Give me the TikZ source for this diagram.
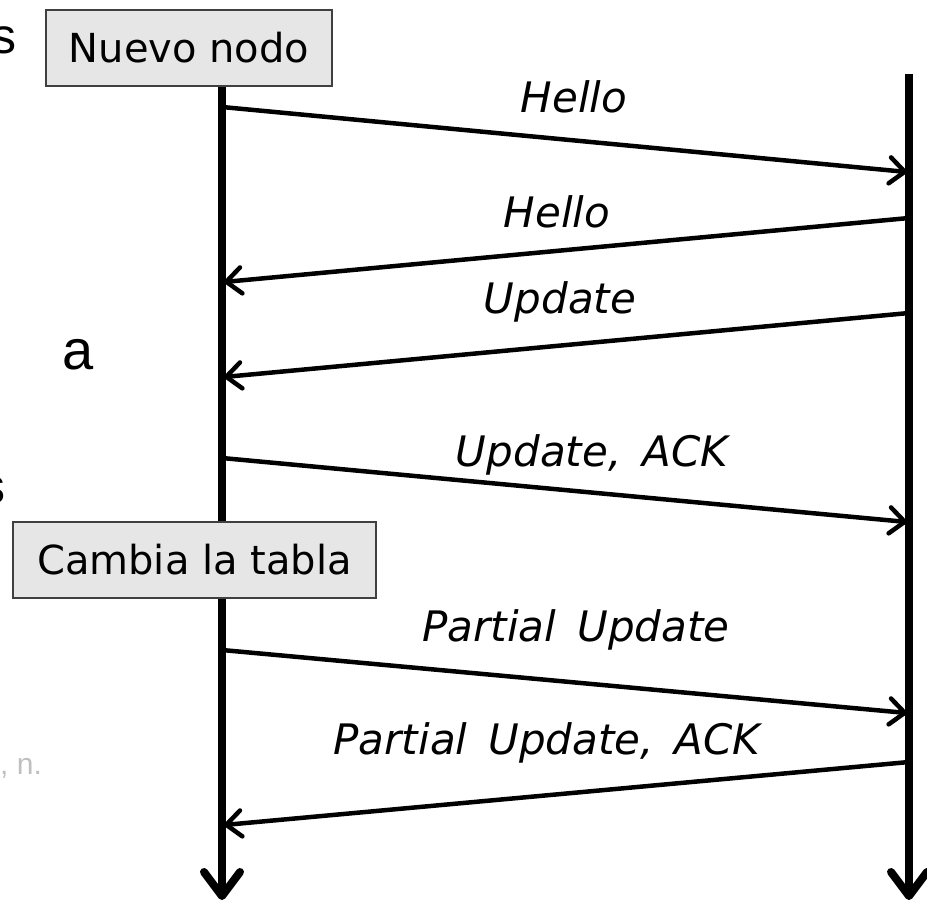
\documentclass[tikz,border=0pt]{standalone}
\usepackage{fontspec}
\setmainfont{DejaVu Sans}
\newfontfamily\slidefont{Liberation Sans}
\usetikzlibrary{arrows.meta}
\definecolor{boxfill}{HTML}{E6E6E6}
\definecolor{boxline}{HTML}{404040}
\definecolor{ghost}{HTML}{BFBFBF}
\newcommand\msgfont{\fontsize{42}{48}\selectfont\itshape\spaceskip=0.5em plus 0.1em\relax}
\tikzset{
  lifeline/.style={line width=8pt,-{Straight Barb[length=24pt,width=36pt,round]}},
  msg/.style={line width=4.5pt,-{Straight Barb[length=15pt,width=26pt,round]}},
  evbox/.style={draw=boxline,line width=1.5pt,fill=boxfill,inner sep=0pt,minimum height=76pt,font=\fontsize{40}{46}\selectfont},
  msglabel/.style={font=\msgfont,inner sep=0pt},
  frag/.style={font=\slidefont\fontsize{50}{56}\selectfont,inner sep=0pt},
}
\begin{document}
\begin{tikzpicture}[x=1pt,y=-1pt]
\useasboundingbox (0,0) rectangle (927,902);
% fragments of slide text at the left edge
\node[frag,anchor=east] (f1) at (17,40) {s};
\node[frag,anchor=west,font=\slidefont\fontsize{56}{60}\selectfont] (f2) at (62,355) {a};
\node[frag,anchor=east] (f3) at (6,490) {s};
\node[anchor=west,text=ghost,inner sep=0pt,font=\slidefont\fontsize{30}{34}\selectfont] (f4) at (0,768) {, n.};
% lifeline ends
\coordinate (Ltop) at (222,86);
\coordinate (Lbot) at (222,900);
\coordinate (Rtop) at (909,74);
\coordinate (Rbot) at (909,900);
\draw[lifeline] (Ltop) -- (Lbot);
\draw[lifeline] (Rtop) -- (Rbot);
% message end points
\coordinate (a1) at (222,107); \coordinate (b1) at (907,172);
\coordinate (a2) at (909,218); \coordinate (b2) at (224,282);
\coordinate (a3) at (909,313); \coordinate (b3) at (224,377);
\coordinate (a4) at (222,458); \coordinate (b4) at (907,522);
\coordinate (a5) at (222,650); \coordinate (b5) at (907,713);
\coordinate (a6) at (909,762); \coordinate (b6) at (224,825);
\draw[msg] (a1) -- (b1);
\draw[msg] (a2) -- (b2);
\draw[msg] (a3) -- (b3);
\draw[msg] (a4) -- (b4);
\draw[msg] (a5) -- (b5);
\draw[msg] (a6) -- (b6);
% labels
\node[msglabel] (t1) at (574,97) {Hello};
\node[msglabel] (t2) at (557,212) {Hello};
\node[msglabel] (t3) at (560,302) {Update};
\node[msglabel] (t4) at (592,455) {Update, ACK};
\node[msglabel] (t5) at (576,630) {Partial Update};
\node[msglabel] (t6) at (547,743) {Partial Update, ACK};
% event boxes
\node[evbox,minimum width=286pt] (nuevo) at (189,48) {Nuevo nodo};
\node[evbox,minimum width=363pt] (cambia) at (194.5,560) {Cambia la tabla};
\end{tikzpicture}
\end{document}
